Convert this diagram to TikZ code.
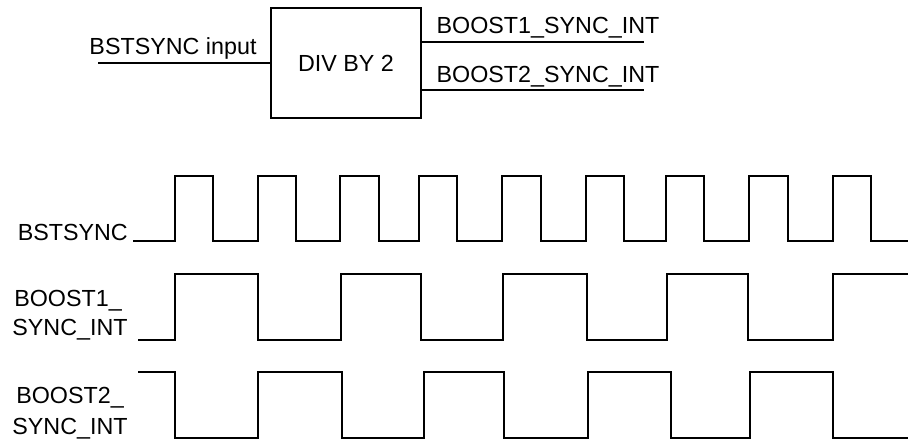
\documentclass[tikz,border=0pt]{standalone}
\usepackage{fontspec}
\setmainfont{Liberation Sans}
\begin{document}
\begin{tikzpicture}[x=1pt,y=-1pt,
  wire/.style={line width=1.6pt},
  wave/.style={line width=1.6pt,line join=miter},
  lbl/.style={inner sep=0pt,font=\fontsize{23.3}{28}\selectfont},
  blockbox/.style={draw,line width=1.6pt,minimum width=150pt,minimum height=110pt,inner sep=0pt,font=\fontsize{23.3}{28}\selectfont}]
\useasboundingbox (0,0) rectangle (910,445);
% block diagram
\node[blockbox] (div) at (346,63) {DIV BY 2};
\coordinate (in) at (98,63);
\coordinate (o1) at (644,42);
\coordinate (o2) at (644,90);
\draw[wire] (in) -- (in -| div.west);
\draw[wire] (o1 -| div.east) -- (o1);
\draw[wire] (o2 -| div.east) -- (o2);
\node[lbl,anchor=base] (inlbl) at (173,54) {BSTSYNC input};
\node[lbl,anchor=base] (o1lbl) at (548,33) {BOOST1\_SYNC\_INT};
\node[lbl,anchor=base] (o2lbl) at (548,82) {BOOST2\_SYNC\_INT};
% waveform labels
\node[lbl,anchor=base east] (w0) at (128,240) {BSTSYNC};
\node[lbl,anchor=base] (w1a) at (68,306) {BOOST1\_};
\node[lbl,anchor=base] (w1b) at (70,335) {SYNC\_INT};
\node[lbl,anchor=base] (w2a) at (70,403) {BOOST2\_};
\node[lbl,anchor=base] (w2b) at (70,434) {SYNC\_INT};
% BSTSYNC waveform
\draw[wave] (133,241) -- (175,241) -- (175,176) -- (213,176) -- (213,241)
  -- (258,241) -- (258,176) -- (296,176) -- (296,241)
  -- (340,241) -- (340,176) -- (379,176) -- (379,241)
  -- (419,241) -- (419,176) -- (457,176) -- (457,241)
  -- (502,241) -- (502,176) -- (541,176) -- (541,241)
  -- (586,241) -- (586,176) -- (624,176) -- (624,241)
  -- (666,241) -- (666,176) -- (704,176) -- (704,241)
  -- (749,241) -- (749,176) -- (788,176) -- (788,241)
  -- (833,241) -- (833,176) -- (871,176) -- (871,241) -- (908,241);
% BOOST1 waveform
\draw[wave] (138,340) -- (175,340) -- (175,274) -- (258,274) -- (258,340)
  -- (341,340) -- (341,274) -- (421,274) -- (421,340)
  -- (503,340) -- (503,274) -- (587,274) -- (587,340)
  -- (667,340) -- (667,274) -- (748,274) -- (748,340)
  -- (833,340) -- (833,274) -- (908,274);
% BOOST2 waveform
\draw[wave] (138,372) -- (175,372) -- (175,438) -- (258,438) -- (258,372)
  -- (342,372) -- (342,438) -- (424,438) -- (424,372)
  -- (504,372) -- (504,438) -- (588,438) -- (588,372)
  -- (671,372) -- (671,438) -- (750,438) -- (750,372)
  -- (833,372) -- (833,438) -- (908,438);
\end{tikzpicture}
\end{document}
